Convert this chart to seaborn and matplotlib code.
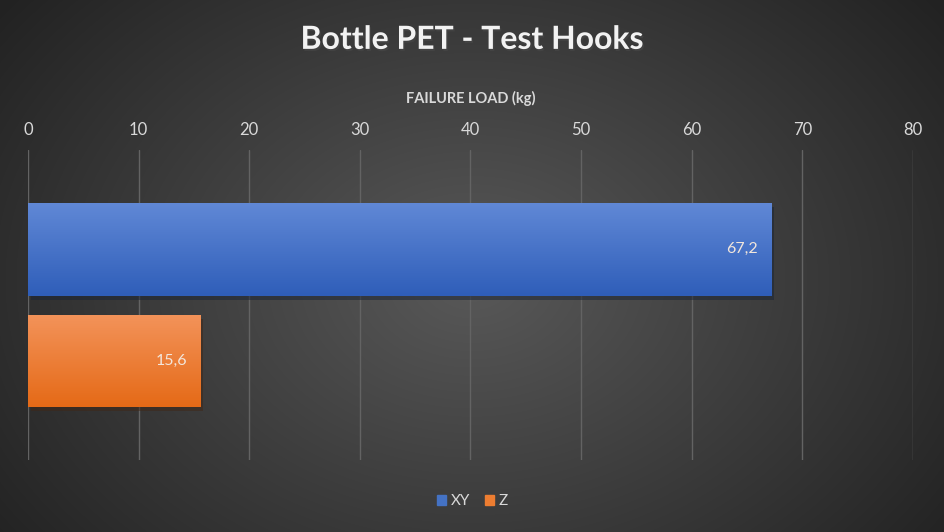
import numpy as np
import pandas as pd
import matplotlib.pyplot as plt
import matplotlib.patheffects as pe
import seaborn as sns

# data
category = ["Bottle PET"]
series = ["XY", "Z"]
load_kg = [67.2, 15.6]
value_labels = ["67,2", "15,6"]
x_ticks = [0, 10, 20, 30, 40, 50, 60, 70, 80]

colors = {"XY": "#4472c4", "Z": "#ed7d31"}
grads = {"XY": ("#6088d6", "#2f5eb9"), "Z": ("#f3935a", "#e56a17")}

df = pd.DataFrame({"cat": category * 2, "series": series, "load": load_kg})

sns.set_theme(style="dark")
plt.rcParams["font.family"] = ["Lato", "DejaVu Sans"]

fig = plt.figure(figsize=(9.45, 5.32), dpi=100)

# radial background
bg = fig.add_axes([0, 0, 1, 1], zorder=-10)
yy, xx = np.mgrid[0:532, 0:945]
r = np.sqrt(((xx - 472) / 560) ** 2 + ((yy - 280) / 420) ** 2)
shade = np.clip(0.35 - 0.2 * r, 0.14, 0.35)
bg.imshow(shade, cmap="gray", vmin=0, vmax=1, aspect="auto")
bg.axis("off")

ax = fig.add_axes([0.0296, 0.1353, 0.9365, 0.5827])
ax.patch.set_alpha(0)

sns.barplot(data=df, x="load", y="cat", hue="series", orient="h",
            palette=colors, width=0.72, gap=0.17, ax=ax, legend=False,
            linewidth=0, edgecolor="none")

# gradient fill + shadow for each bar
for patch, s in zip(ax.patches, series):
    x0, y0 = patch.get_x(), patch.get_y()
    w, h = patch.get_width(), patch.get_height()
    top, bot = [np.array(plt.matplotlib.colors.to_rgb(c)) for c in grads[s]]
    t = np.linspace(0, 1, 64)[:, None]
    img = (top * (1 - t) + bot * t)[:, None, :]
    im = ax.imshow(img, extent=[x0, x0 + w, y0 + h, y0], aspect="auto", zorder=3)
    im.set_clip_path(patch)
    patch.set_path_effects([pe.SimplePatchShadow(offset=(2, -3), alpha=0.5), pe.Normal()])

ax.set_xlim(0, 80)
ax.set_ylim(0.5, -0.5)
ax.xaxis.tick_top()
ax.xaxis.set_label_position("top")
ax.set_xticks(x_ticks)
ax.set_xticklabels([str(v) for v in x_ticks])
ax.tick_params(axis="x", colors="#d9d9d9", labelsize=12, length=0, pad=9)
ax.set_yticks([])
ax.set_ylabel("")
ax.set_xlabel("FAILURE LOAD (kg)", color="#d9d9d9", fontsize=10.5,
              fontweight="bold", labelpad=13)
ax.grid(axis="x", color="#636363", linewidth=1)
ax.grid(axis="y", visible=False)
ax.set_axisbelow(True)
for sp in ax.spines.values():
    sp.set_visible(False)

# value labels inside end
for (patch, lab) in zip(ax.patches, value_labels):
    ax.text(patch.get_x() + patch.get_width() - 1.2,
            patch.get_y() + patch.get_height() / 2, lab,
            ha="right", va="center", color="#f2e6dc", fontsize=11.5, zorder=5)

fig.text(0.5, 0.926, "Bottle PET - Test Hooks", ha="center", va="center",
         color="#f2f2f2", fontsize=23, fontweight="bold",
         path_effects=[pe.withSimplePatchShadow(offset=(1, -1.5), alpha=0.6)])

handles = [plt.Rectangle((0, 0), 1, 1, color=colors[s]) for s in series]
fig.legend(handles, series, loc="center", bbox_to_anchor=(0.5, 0.058), ncol=2,
           frameon=False, labelcolor="#d9d9d9", fontsize=11, handlelength=0.6,
           handleheight=0.6, handletextpad=0.3, columnspacing=1.0)

fig.savefig("out.png", dpi=100)
